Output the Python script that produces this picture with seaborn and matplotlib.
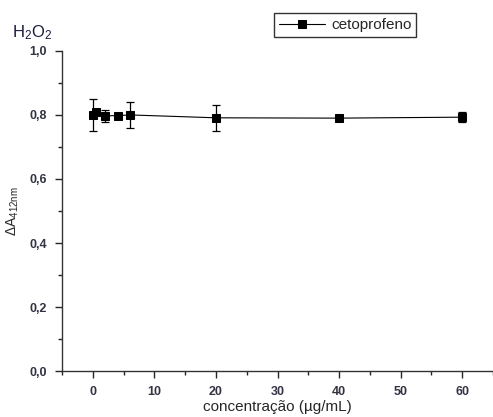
import numpy as np
import pandas as pd
import matplotlib
matplotlib.use('Agg')
import matplotlib.pyplot as plt
from matplotlib.ticker import MultipleLocator, FuncFormatter
import seaborn as sns

# data
conc = [0, 0.5, 2, 4, 6, 20, 40, 60]
absorb = [0.800, 0.810, 0.797, 0.798, 0.800, 0.791, 0.790, 0.793]
err = [0.050, 0.010, 0.018, 0.006, 0.040, 0.040, 0.005, 0.016]

df = pd.DataFrame({'conc': conc, 'A': absorb, 'err': err})

sns.set_style('ticks')
plt.rcParams['font.family'] = ['Liberation Sans', 'DejaVu Sans']
plt.rcParams['mathtext.fontset'] = 'custom'
plt.rcParams['mathtext.rm'] = 'Liberation Sans'
plt.rcParams['mathtext.it'] = 'Liberation Sans:italic'

fig = plt.figure(figsize=(4.93, 4.17), dpi=100)
ax = fig.add_axes([0.126, 0.110, 0.874, 0.768])

sns.lineplot(data=df, x='conc', y='A', ax=ax, color='black', lw=0.8,
             marker='s', markersize=6, markeredgecolor='black',
             label='cetoprofeno', legend=False)
ax.errorbar(df['conc'], df['A'], yerr=df['err'], fmt='none', ecolor='black',
            elinewidth=0.9, capsize=3, capthick=0.9)

ax.set_xlim(-5, 65)
ax.set_ylim(0, 1.0)
ax.xaxis.set_major_locator(MultipleLocator(10))
ax.xaxis.set_minor_locator(MultipleLocator(5))
ax.yaxis.set_major_locator(MultipleLocator(0.2))
ax.yaxis.set_minor_locator(MultipleLocator(0.1))
ax.yaxis.set_major_formatter(FuncFormatter(lambda v, p: f'{v:.1f}'.replace('.', ',')))
ax.tick_params(which='major', length=5, width=1, labelsize=9, pad=6)
ax.tick_params(which='minor', length=3, width=1)
for lbl in ax.get_xticklabels() + ax.get_yticklabels():
    lbl.set_fontweight('bold')
    lbl.set_color('#333344')

sns.despine(ax=ax)
for s in ['left', 'bottom']:
    ax.spines[s].set_linewidth(1)
    ax.spines[s].set_color('#333333')

ax.set_xlabel('concentração (µg/mL)', fontsize=11, labelpad=1)
ax.set_ylabel(r'$\Delta\mathrm{A}_{\mathrm{412nm}}$', fontsize=10, labelpad=6)
fig.text(0.025, 0.91, r'$\mathrm{H_2O_2}$', fontsize=12, color='#1a1a40')

handles, labels = ax.get_legend_handles_labels()
leg = fig.legend(handles, labels, loc='center', bbox_to_anchor=(0.70, 0.94),
                 frameon=True, fancybox=False, fontsize=11, handlelength=3.0,
                 handletextpad=0.4, borderpad=0.3, edgecolor='black')
leg.get_frame().set_linewidth(1)

fig.savefig('out.png', dpi=100)
